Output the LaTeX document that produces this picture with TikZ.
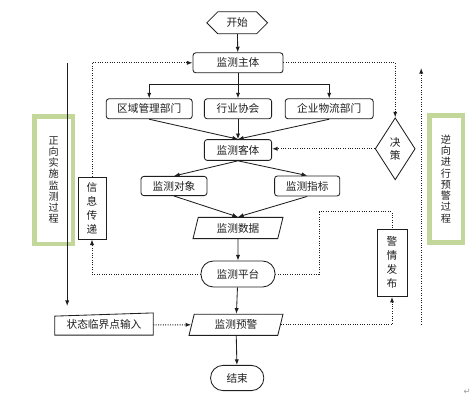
\documentclass[tikz,border=0pt]{standalone}
\usepackage{fontspec}
\setmainfont{Noto Sans CJK SC}
\newfontfamily\symfont{DejaVu Sans}
\usepackage{tikz}
\usetikzlibrary{arrows.meta,calc,shapes.geometric,shapes.symbols}
\usepackage{xcolor}
\definecolor{ink}{HTML}{1E1E1E}
\definecolor{frame}{HTML}{C4D79B}
\definecolor{muted}{HTML}{9A9A9A}
\tikzset{
  txt/.style={font=\fontsize{7.6}{9}\selectfont, text=ink},
  box/.style={txt, draw=ink, rounded corners=2pt, line width=0.6pt, inner sep=0pt, minimum height=0.5cm},
  para/.style={txt, draw=ink, trapezium, trapezium left angle=62, trapezium right angle=118,
    trapezium stretches body, line width=0.6pt, inner sep=0pt, minimum height=0.53cm},
  pill/.style={txt, draw=ink, rounded corners=0.31cm, line width=0.6pt, inner sep=0pt},
  vbox/.style={draw=ink, line width=0.6pt, align=center, inner sep=0pt,
    font=\fontsize{7.6}{9.9}\selectfont, text=ink},
  procbox/.style={draw=frame, line width=3pt, fill=white, align=center, inner sep=0pt,
    font=\fontsize{7.2}{8}\selectfont, text=ink},
  flow/.style={->, draw=ink, line width=0.6pt},
  dots/.style={->, draw=ink, densely dotted, line width=0.7pt},
}

\begin{document}
\begin{tikzpicture}[>={Latex[length=4pt,width=3pt]}]
    \useasboundingbox (0,0) rectangle (11.8,10.15);
    % side frames
    \node[procbox, minimum width=0.98cm, minimum height=3.2cm] (fwd) at (1.34,5.65) {正\\向\\实\\施\\监\\测\\过\\程};
    \draw[frame, line width=0.4pt] ($(fwd.south west)+(0.1,0.1)$) rectangle ($(fwd.north east)-(0.1,0.1)$);
    \node[procbox, minimum width=0.85cm, minimum height=3.18cm] (bwd) at (11.15,5.68) {逆\\向\\进\\行\\预\\警\\过\\程};
    \draw[frame, line width=0.4pt] ($(bwd.south west)+(0.1,0.1)$) rectangle ($(bwd.north east)-(0.1,0.1)$);
    \coordinate (fwdtop) at (1.68,8.58);
    \coordinate (fwdend) at (1.68,2.5);
    \draw[flow] (fwdtop) -- (fwdend);
    \coordinate (bwdstart) at (10.53,2.03);
    \coordinate (bwdend) at (10.53,8.45);
    \draw[dots] (bwdstart) -- (bwdend);
    % main column
    \node[txt, draw=ink, line width=0.6pt, shape=signal, signal to=west and east, inner sep=0pt,
      minimum width=1.52cm, minimum height=0.55cm] (start) at (5.93,9.58) {开始};
    \node[box, minimum width=2.25cm] (main) at (5.95,8.58) {监测主体};
    \node[box, minimum width=2.15cm] (dept1) at (3.73,7.43) {区域管理部门};
    \node[box, minimum width=1.68cm] (dept2) at (5.95,7.43) {行业协会};
    \node[box, minimum width=2.2cm] (dept3) at (8.23,7.43) {企业物流部门};
    \node[box, minimum width=1.68cm, minimum height=0.52cm] (object) at (5.95,6.40) {监测客体};
    \node[txt, draw=ink, line width=0.6pt, shape=diamond, inner sep=0pt, align=center,
      minimum width=1.0cm, minimum height=1.55cm] (decide) at (9.88,6.43) {决\\策};
    \node[box, minimum width=1.65cm, minimum height=0.48cm] (target) at (4.35,5.50) {监测对象};
    \node[box, minimum width=1.63cm] (index) at (7.68,5.50) {监测指标};
    \node[para, minimum width=2.25cm] (data) at (5.95,4.45) {监测数据};
    \node[pill, minimum width=1.85cm, minimum height=0.65cm] (platform) at (5.95,3.30) {监测平台};
    \node[para, minimum width=2.35cm] (alarm) at (5.90,2.03) {监测预警};
    \node[txt, minimum width=2.45cm, minimum height=0.5cm, inner sep=0pt] (input) at (2.60,2.03) {状态临界点输入};
    \draw[ink, line width=0.6pt] (input.south west) -- (input.south east)
      -- ($(input.north east)+(0,0.04)$) -- ($(input.north west)+(0,-0.04)$) -- cycle;
    \node[pill, minimum width=1.33cm, minimum height=0.63cm] (end) at (5.93,0.70) {结束};
    \node[vbox, minimum width=0.7cm, minimum height=1.55cm] (info) at (2.30,4.95) {信\\息\\传\\递};
    \node[vbox, minimum width=0.75cm, minimum height=1.68cm] (release) at (9.80,3.58) {警\\情\\发\\布};
    % solid flow
    \draw[flow] (start) -- (main);
    \draw[flow] (main) -- (dept2);
    \coordinate (split) at (5.95,8.03);
    \draw[flow] (split) -| (dept1.north);
    \draw[flow] (split) -| (dept3.north);
    \foreach \d in {dept1,dept2,dept3} \draw[flow] (\d.south) -- (object.north);
    \foreach \d in {target,index} {
      \draw[flow] (object.south) -- (\d.north);
      \draw[flow] (\d.south) -- (data.north);}
    \draw[flow] (data) -- (platform);
    \draw[flow] (platform) -- (alarm);
    \draw[flow] (alarm) -- (end);
    % dotted feedback
    \draw[dots] (info.north) |- (main.west);
    \draw[dots] (platform.west) -| (info.south);
    \draw[dots] (main.east) -| (decide.north);
    \draw[dots] (decide.west) -- (decide.west -| object.east);
    \draw[ink, densely dotted, line width=0.7pt] (platform.east) -- ++(1.1,0)
      |- ($(release.north)+(0,0.42)$) -- (release.north);
    \draw[dots] (alarm.east) -| (release.south);
    \draw[dots] (input.east) -- (alarm.west);
    \node[muted, font=\symfont\fontsize{6}{6}\selectfont] (mark) at (11.68,0.35) {↵};
\end{tikzpicture}
\end{document}
